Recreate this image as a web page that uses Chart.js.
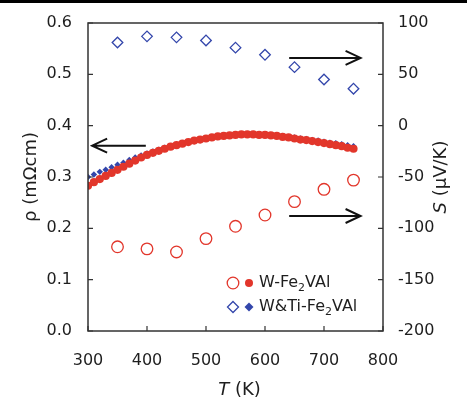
<!DOCTYPE html>
<html>
<head>
<meta charset="utf-8">
<script src="https://cdn.jsdelivr.net/npm/chart.js@4.4.0/dist/chart.umd.min.js"></script>
<style>
  body { margin: 0; background: #fff; }
  #wrap { position: relative; width: 467px; height: 402px; }
</style>
</head>
<body>
<div id="wrap"><canvas id="chartcanvas"></canvas></div>
<script>
// resistivity, read at 10 K steps
const rhoTemps = [300,310,320,330,340,350,360,370,380,390,400,410,420,430,440,450,460,470,480,490,500,510,520,530,540,550,560,570,580,590,600,610,620,630,640,650,660,670,680,690,700,710,720,730,740,750];
const rhoW = [0.283,0.290,0.296,0.302,0.308,0.314,0.320,0.326,0.332,0.338,0.343,0.347,0.351,0.355,0.359,0.362,0.365,0.368,0.371,0.373,0.375,0.377,0.379,0.380,0.381,0.382,0.383,0.383,0.383,0.382,0.382,0.381,0.380,0.378,0.377,0.375,0.373,0.372,0.370,0.368,0.366,0.364,0.362,0.360,0.357,0.355];
const rhoWTi = [0.300,0.305,0.310,0.314,0.319,0.324,0.328,0.333,0.338,0.342,0.346,0.350,0.353,0.357,0.360,0.363,0.365,0.368,0.370,0.372,0.374,0.376,0.378,0.380,0.381,0.382,0.383,0.383,0.383,0.383,0.382,0.382,0.381,0.380,0.378,0.377,0.375,0.374,0.372,0.371,0.369,0.367,0.366,0.364,0.362,0.360];

// Seebeck coefficient
const seebeckTemps = [350,400,450,500,550,600,650,700,750];
const seebeckW = [-118,-120,-123,-110,-98,-87,-74,-62,-53];
const seebeckWTi = [81,87,86,83,76,69,57,45,36];

const xTicks = [300,400,500,600,700,800];
const rhoTicks = [0.0,0.1,0.2,0.3,0.4,0.5,0.6];
const sTicks = [-200,-150,-100,-50,0,50,100];

const red = '#e2362b';
const blue = '#3346ab';
const ink = '#1e1e1e';
const font = 'DejaVu Sans';

function pts(xs, ys) {
  return xs.map((x, i) => ({x: x, y: ys[i]}));
}

// arrows pointing at the axis each series belongs to
const arrows = [
  {axis: 'yRho', x0: 398, x1: 307, y: 0.361},
  {axis: 'yS', x0: 641, x1: 762, y: 66},
  {axis: 'yS', x0: 641, x1: 762, y: -88}
];

const framePlugin = {
  id: 'frame',
  afterDraw(chart) {
    const c = chart.ctx;
    const a = chart.chartArea;
    const sx = chart.scales.x, sr = chart.scales.yRho, ss = chart.scales.yS;
    c.save();
    // top bar
    c.fillStyle = '#000';
    c.fillRect(0, 0, chart.width, 3);

    c.strokeStyle = '#333';
    c.lineWidth = 1.5;
    c.strokeRect(a.left, a.top, a.right - a.left, a.bottom - a.top);

    // inward ticks
    c.lineWidth = 1.2;
    c.beginPath();
    xTicks.forEach(v => {
      const px = sx.getPixelForValue(v);
      c.moveTo(px, a.bottom); c.lineTo(px, a.bottom - 5);
    });
    rhoTicks.forEach(v => {
      const py = sr.getPixelForValue(v);
      c.moveTo(a.left, py); c.lineTo(a.left + 5, py);
    });
    sTicks.forEach(v => {
      const py = ss.getPixelForValue(v);
      c.moveTo(a.right, py); c.lineTo(a.right - 5, py);
    });
    c.stroke();

    // arrows
    c.strokeStyle = '#111';
    c.lineWidth = 2;
    arrows.forEach(ar => {
      const y = chart.scales[ar.axis].getPixelForValue(ar.y);
      const x0 = sx.getPixelForValue(ar.x0);
      const x1 = sx.getPixelForValue(ar.x1);
      const d = x1 > x0 ? 1 : -1;
      c.beginPath();
      c.moveTo(x0, y); c.lineTo(x1, y);
      c.moveTo(x1 - d * 15, y - 7); c.lineTo(x1, y); c.lineTo(x1 - d * 15, y + 7);
      c.stroke();
    });

    // legend
    const lx = 233, lx2 = 249, tx = 259;
    const rows = [
      {y: 283, name: ['W-Fe', '2', 'VAl'], open: 'circle', col: red},
      {y: 307, name: ['W&Ti-Fe', '2', 'VAl'], open: 'diamond', col: blue}
    ];
    rows.forEach(r => {
      c.lineWidth = 1.3;
      c.strokeStyle = r.col;
      c.fillStyle = r.col;
      if (r.open === 'circle') {
        c.beginPath(); c.arc(lx, r.y, 5.8, 0, Math.PI * 2); c.stroke();
        c.beginPath(); c.arc(lx2, r.y, 4, 0, Math.PI * 2); c.fill();
      } else {
        c.beginPath();
        c.moveTo(lx, r.y - 5.5); c.lineTo(lx + 5.5, r.y); c.lineTo(lx, r.y + 5.5); c.lineTo(lx - 5.5, r.y); c.closePath();
        c.stroke();
        c.beginPath();
        c.moveTo(lx2, r.y - 4.5); c.lineTo(lx2 + 4.5, r.y); c.lineTo(lx2, r.y + 4.5); c.lineTo(lx2 - 4.5, r.y); c.closePath();
        c.fill();
      }
      c.fillStyle = ink;
      c.textBaseline = 'middle';
      c.textAlign = 'left';
      let x = tx;
      c.font = '16px "' + font + '"';
      c.fillText(r.name[0], x, r.y);
      x += c.measureText(r.name[0]).width;
      c.font = '11px "' + font + '"';
      c.fillText(r.name[1], x, r.y + 5);
      x += c.measureText(r.name[1]).width;
      c.font = '16px "' + font + '"';
      c.fillText(r.name[2], x, r.y);
    });

    // axis titles
    c.fillStyle = ink;
    c.textBaseline = 'middle';
    // x title
    c.font = 'italic 18px "' + font + '"';
    const tW = c.measureText('T').width;
    c.font = '18px "' + font + '"';
    const kW = c.measureText(' (K)').width;
    let xs = (a.left + a.right) / 2 + 4 - (tW + kW) / 2;
    c.textAlign = 'left';
    c.font = 'italic 18px "' + font + '"';
    c.fillText('T', xs, 390);
    c.font = '18px "' + font + '"';
    c.fillText(' (K)', xs + tW, 390);

    // left title
    c.save();
    c.translate(31, (a.top + a.bottom) / 2);
    c.rotate(-Math.PI / 2);
    c.textAlign = 'center';
    c.font = '18px "' + font + '"';
    c.fillText('ρ (mΩcm)', 0, 0);
    c.restore();

    // right title
    c.save();
    c.translate(441, (a.top + a.bottom) / 2);
    c.rotate(-Math.PI / 2);
    c.font = 'italic 18px "' + font + '"';
    const sW = c.measureText('S').width;
    c.font = '18px "' + font + '"';
    const uW = c.measureText(' (μV/K)').width;
    c.textAlign = 'left';
    c.font = 'italic 18px "' + font + '"';
    c.fillText('S', -(sW + uW) / 2, 0);
    c.font = '18px "' + font + '"';
    c.fillText(' (μV/K)', -(sW + uW) / 2 + sW, 0);
    c.restore();

    c.restore();
  }
};

const tickFont = {family: font, size: 16};

new Chart(document.getElementById('chartcanvas'), {
  type: 'scatter',
  data: {
    datasets: [
      {
        label: 'rho W-Fe2VAl',
        data: pts(rhoTemps, rhoW),
        yAxisID: 'yRho',
        pointStyle: 'circle',
        pointRadius: 4.1,
        backgroundColor: red,
        borderWidth: 0
      },
      {
        label: 'rho W&Ti-Fe2VAl',
        data: pts(rhoTemps, rhoWTi),
        yAxisID: 'yRho',
        pointStyle: 'rectRot',
        pointRadius: 3.2,
        backgroundColor: blue,
        borderWidth: 0
      },
      {
        label: 'S W-Fe2VAl',
        data: pts(seebeckTemps, seebeckW),
        yAxisID: 'yS',
        pointStyle: 'circle',
        pointRadius: 5.8,
        backgroundColor: 'rgba(0,0,0,0)',
        borderColor: red,
        borderWidth: 1.3
      },
      {
        label: 'S W&Ti-Fe2VAl',
        data: pts(seebeckTemps, seebeckWTi),
        yAxisID: 'yS',
        pointStyle: 'rectRot',
        pointRadius: 5.3,
        backgroundColor: 'rgba(0,0,0,0)',
        borderColor: blue,
        borderWidth: 1.3
      }
    ]
  },
  options: {
    responsive: true,
    maintainAspectRatio: false,
    animation: false,
    layout: {padding: {top: 23, left: 0, right: 0, bottom: 0}},
    plugins: {legend: {display: false}, tooltip: {enabled: false}},
    scales: {
      x: {
        type: 'linear',
        min: 300,
        max: 800,
        grid: {display: false},
        border: {display: false},
        afterBuildTicks: s => { s.ticks = xTicks.map(v => ({value: v})); },
        afterFit: s => { s.height = 71; },
        ticks: {font: tickFont, color: ink, padding: 12, maxRotation: 0}
      },
      yRho: {
        type: 'linear',
        position: 'left',
        min: 0,
        max: 0.6,
        grid: {display: false},
        border: {display: false},
        afterBuildTicks: s => { s.ticks = rhoTicks.map(v => ({value: v})); },
        afterFit: s => { s.width = 88; },
        ticks: {font: tickFont, color: ink, padding: 8, callback: v => v.toFixed(1)}
      },
      yS: {
        type: 'linear',
        position: 'right',
        min: -200,
        max: 100,
        grid: {display: false},
        border: {display: false},
        afterBuildTicks: s => { s.ticks = sTicks.map(v => ({value: v})); },
        afterFit: s => { s.width = 84; },
        ticks: {font: tickFont, color: ink, padding: 7, callback: v => String(v)}
      }
    }
  },
  plugins: [framePlugin]
});
</script>
</body>
</html>
